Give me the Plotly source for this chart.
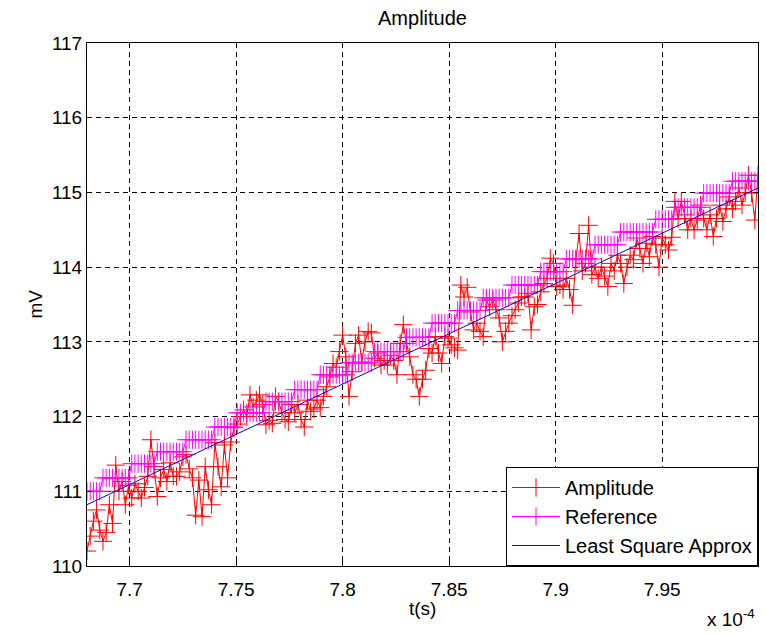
import numpy as np
import plotly.graph_objects as go

# ---- data ----
t_start = 7.68e-4          # s
t_step = 1.5e-7            # s, sample spacing

amplitude_mv = [
    110.20, 110.40, 110.60, 110.75, 110.48, 110.33, 110.45, 110.82, 110.57, 111.35,
    111.00, 111.13, 110.82, 111.08, 110.91, 111.10, 111.00, 110.91, 111.05, 111.20,
    111.69, 111.33, 110.93, 111.18, 111.29, 111.13, 111.38, 111.20, 111.20, 111.26,
    111.46, 111.49, 111.30, 111.18, 110.68, 111.15, 110.66, 111.33, 111.02, 110.82,
    111.65, 111.33, 111.06, 111.62, 111.18, 111.66, 111.85, 111.90, 112.00, 112.09,
    112.00, 112.29, 112.13, 112.22, 112.29, 112.16, 111.89, 111.95, 111.91, 112.27,
    112.20, 112.05, 111.96, 111.93, 112.16, 112.05, 112.16, 111.96, 111.86, 112.22,
    112.07, 112.10, 112.22, 112.12, 112.27, 112.40, 112.53, 112.71, 112.66, 112.87,
    113.09, 112.80, 112.27, 112.60, 112.98, 113.09, 112.73, 113.00, 113.14, 113.12,
    112.78, 112.85, 112.69, 112.75, 112.69, 112.82, 112.75, 112.56, 112.98, 113.23,
    112.98, 112.80, 112.56, 112.50, 112.27, 112.50, 112.62, 112.91, 112.85, 113.07,
    112.85, 112.71, 113.07, 113.05, 112.96, 112.92, 112.89, 113.76, 113.60, 113.73,
    113.40, 113.16, 113.25, 113.14, 113.07, 113.56, 113.47, 113.56, 113.43, 113.32,
    113.00, 113.14, 113.25, 113.35, 113.43, 113.52, 113.60, 113.60, 113.65, 113.16,
    113.47, 113.50, 113.67, 113.78, 113.85, 114.12, 114.05, 113.74, 113.76, 113.70,
    113.85, 113.70, 113.49, 114.10, 114.45, 113.95, 114.05, 114.56, 113.90, 114.00,
    113.85, 114.00, 113.88, 113.74, 114.05, 113.95, 114.16, 114.05, 113.78, 114.00,
    114.16, 114.10, 114.39, 114.25, 114.05, 114.32, 114.14, 114.41, 114.30, 114.00,
    114.39, 114.30, 114.23, 114.40, 114.88, 114.65, 114.88, 114.70, 114.50, 114.65,
    114.50, 114.63, 114.83, 114.65, 114.50, 114.70, 114.41, 114.65, 114.83, 114.61,
    114.78, 114.94, 114.78, 114.88, 115.06, 114.83, 115.00, 115.23, 114.99, 114.63, 115.23,
]

# reference staircase: level values and how many samples sit on each level
ref_levels = [111.00, 111.18, 111.37, 111.53, 111.69, 111.86, 112.05, 112.20, 112.36,
              112.56, 112.72, 112.87, 113.06, 113.25, 113.42, 113.59, 113.76, 113.94,
              114.11, 114.30, 114.47, 114.64, 114.80, 114.99, 115.15]
ref_counts = [5, 9, 8, 9, 9, 7, 9, 9, 8, 9, 8, 10, 8, 8, 8, 9, 9, 8, 9, 8, 11, 6, 9, 9, 9]

# least-square approximation line (end points)
lsq_t = [7.68e-4, 7.995e-4]
lsq_mv = [110.82, 115.06]

x_tick_vals = [7.7e-4, 7.75e-4, 7.8e-4, 7.85e-4, 7.9e-4, 7.95e-4]
x_tick_text = ["7.7", "7.75", "7.8", "7.85", "7.9", "7.95"]
y_tick_vals = [110, 111, 112, 113, 114, 115, 116, 117]
y_tick_text = ["110", "111", "112", "113", "114", "115", "116", "117"]

# ---- build ----
t = t_start + t_step * np.arange(len(amplitude_mv))
reference_mv = np.repeat(ref_levels, ref_counts)

FONT = "Liberation Sans, Arial, Helvetica, sans-serif"

fig = go.Figure()
fig.add_trace(go.Scatter(
    x=t, y=amplitude_mv, name="Amplitude", mode="lines+markers",
    line=dict(color="#ff0000", width=1),
    marker=dict(symbol="cross-thin", size=13, line=dict(color="#ff0000", width=1)),
))
fig.add_trace(go.Scatter(
    x=t, y=reference_mv, name="Reference", mode="lines+markers",
    line=dict(color="#ff00ff", width=1),
    marker=dict(symbol="cross-thin", size=13, line=dict(color="#ff00ff", width=1)),
))
fig.add_trace(go.Scatter(
    x=lsq_t, y=lsq_mv, name="Least Square Approx", mode="lines",
    line=dict(color="#0000ff", width=1),
))

axis_common = dict(
    showgrid=True, gridcolor="black", gridwidth=1, griddash="5px,4px",
    showline=True, linecolor="black", linewidth=1, mirror="ticks",
    ticks="inside", ticklen=5, tickcolor="black", zeroline=False,
    tickfont=dict(family=FONT, size=19, color="black"),
)

plot_w = 766 - 87 - 8
plot_h = 634 - 43 - 68

fig.update_layout(
    width=766, height=634,
    margin=dict(l=87, r=8, t=43, b=68),
    paper_bgcolor="white", plot_bgcolor="white",
    font=dict(family=FONT, color="black"),
    showlegend=True,
    legend=dict(
        x=1, y=0, xanchor="right", yanchor="bottom",
        bgcolor="white", bordercolor="black", borderwidth=1,
        font=dict(family=FONT, size=20, color="black"),
        itemwidth=48, tracegroupgap=0,
    ),
    title=dict(text="Amplitude", x=0.5, xref="paper", xanchor="center",
               y=1 - 18 / 634, yref="container", yanchor="middle",
               font=dict(family=FONT, size=20, color="black")),
    xaxis=dict(range=[7.68e-4, 7.995e-4], tickvals=x_tick_vals, ticktext=x_tick_text,
               ticklabelstandoff=6, **axis_common),
    yaxis=dict(range=[110, 117], tickvals=y_tick_vals, ticktext=y_tick_text,
               **axis_common),
    annotations=[
        dict(text="t(s)", x=0.5, xref="paper", xanchor="center",
             y=-(608 - 566) / plot_h, yref="paper", yanchor="middle",
             showarrow=False, font=dict(family=FONT, size=19, color="black")),
        dict(text="mV", x=-(87 - 35) / plot_w, xref="paper", xanchor="center",
             y=0.5, yref="paper", yanchor="middle",
             showarrow=False, textangle=-90,
             font=dict(family=FONT, size=19, color="black")),
        dict(text="x 10<sup>-4</sup>", x=(705 - 87) / plot_w, xref="paper", xanchor="left",
             y=-(618 - 566) / plot_h, yref="paper", yanchor="middle",
             showarrow=False, font=dict(family=FONT, size=19, color="black")),
    ],
)

fig.write_html("out.html", config={"displayModeBar": False},
               post_script="document.body.style.margin='0';")
